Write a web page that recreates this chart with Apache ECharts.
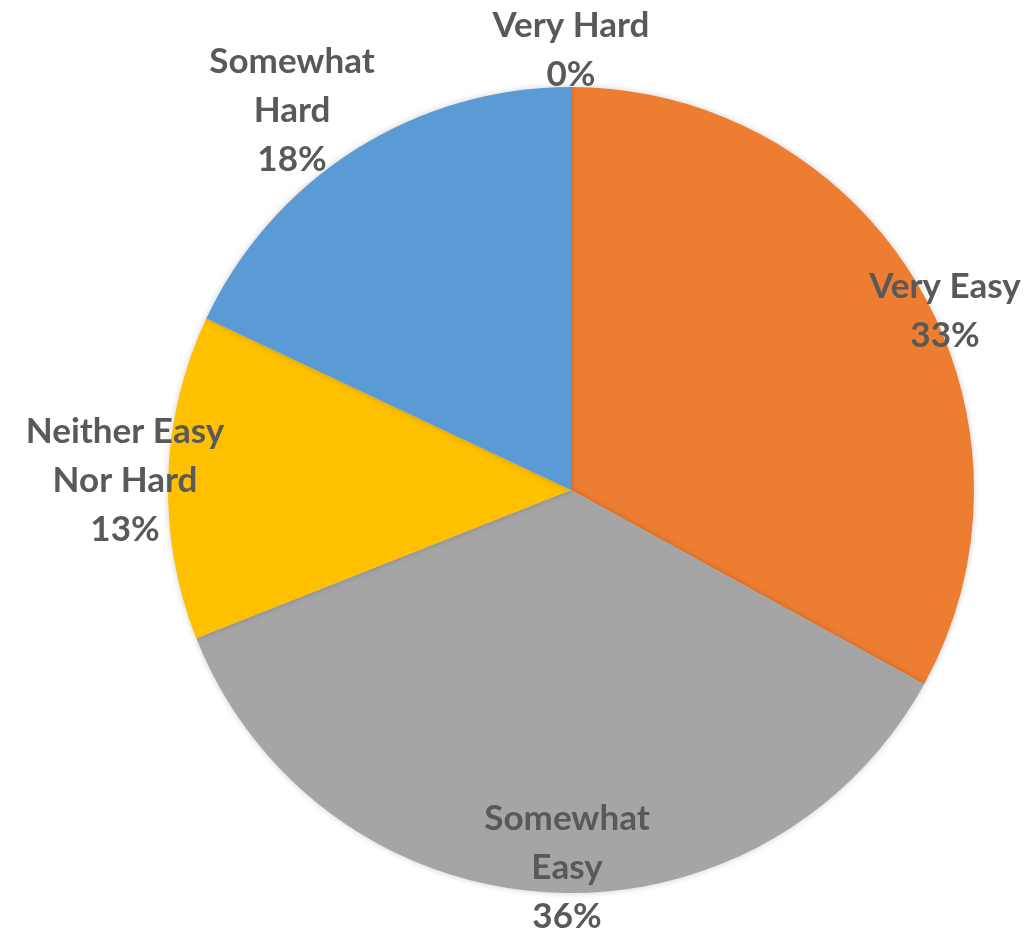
<!DOCTYPE html>
<html>
<head>
<meta charset="utf-8">
<script src="https://cdn.jsdelivr.net/npm/echarts@6/dist/echarts.min.js"></script>
<style>html,body{margin:0;padding:0;background:#fff;}#c{width:1034px;height:935px;}</style>
</head>
<body>
<div id="c"></div>
<script>
const categories = ['Very Easy', 'Somewhat\nEasy', 'Neither Easy\nNor Hard', 'Somewhat\nHard', 'Very Hard'];
const values = [33, 36, 13, 18, 0];
const colors = ['#ED7D31', '#A5A5A5', '#FFC000', '#5B9BD5', '#4472C4'];

// label anchor points (layout only)
const labelPos = [[945, 311], [567, 868], [125, 481], [292, 111], [571, 50]];

const chart = echarts.init(document.getElementById('c'));
chart.setOption({
  animation: false,
  series: [{
    type: 'pie',
    center: [571, 490],
    radius: 403,
    startAngle: 90,
    clockwise: true,
    data: categories.map((n, i) => ({ name: n, value: values[i], itemStyle: { color: colors[i] } })),
    itemStyle: { borderWidth: 0, shadowBlur: 6, shadowColor: 'rgba(0,0,0,0.2)' },
    label: {
      show: true,
      position: 'inside',
      formatter: '{b}\n{d}%',
      fontFamily: 'Lato',
      fontWeight: 'bold',
      fontSize: 35,
      lineHeight: 49,
      color: '#595959',
      align: 'center'
    },
    labelLine: { show: false },
    labelLayout: function (p) {
      const pos = labelPos[p.dataIndex];
      return { x: pos[0], y: pos[1], align: 'center', verticalAlign: 'middle', hideOverlap: false };
    }
  }]
});
</script>
</body>
</html>
